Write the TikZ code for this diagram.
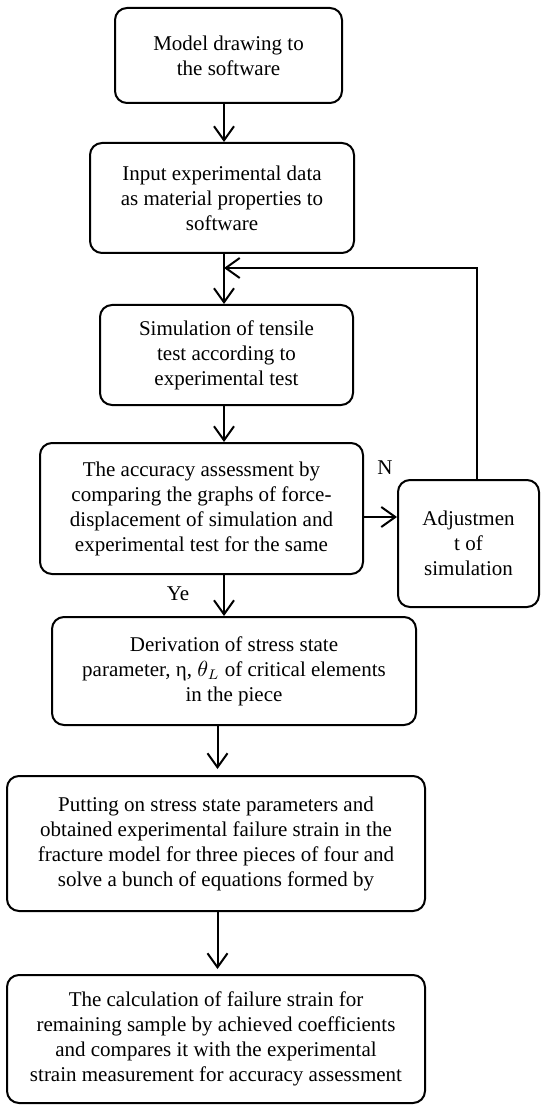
\documentclass[tikz,border=0pt]{standalone}
\usepackage{fontspec}
\setmainfont{Liberation Serif}
\usetikzlibrary{arrows.meta}
\tikzset{
	stage/.style={
			draw, rounded corners=6pt, line width=1pt, align=center, inner sep=2pt,
			font=\fontsize{10.5}{12.5}\selectfont
		},
	flow/.style={line width=1pt, -{Straight Barb[length=7pt,width=10pt,line width=1pt]}},
	tag/.style={font=\fontsize{10.5}{12.5}\selectfont}
}

\begin{document}
\begin{tikzpicture}[x=0.5pt,y=-0.5pt]
        \useasboundingbox (0,0) rectangle (540,1106);
        \node[stage,minimum width=113.5pt,minimum height=47.5pt] (model_box) at (228.5, 55.5) {Model drawing to\\the software};
        \node[stage,minimum width=132pt,minimum height=55pt] (input_box) at (222, 198) {Input experimental data\\as material properties to\\software};
        \node[stage,minimum width=126.5pt,minimum height=50pt] (sim_box) at (226.5, 355) {Simulation of tensile\\test according to\\experimental test};
        \node[stage,minimum width=161.5pt,minimum height=65.5pt] (check_box) at (201.5, 508.5) {The accuracy assessment by\\comparing the graphs of force-\\displacement of simulation and\\experimental test for the same};
        \node[stage,minimum width=70.5pt,minimum height=63.5pt] (adj_box) at (468.5, 543.5) {Adjustmen\\t of\\simulation};
        \node[stage,minimum width=182pt,minimum height=54pt] (stress_box) at (234, 671) {Derivation of stress state\\parameter, η, $\theta_L$ of critical elements\\in the piece};
        \node[stage,minimum width=209pt,minimum height=67.5pt] (fit_box) at (216, 843.5) {Putting on stress state parameters and\\obtained experimental failure strain in the\\fracture model for three pieces of four and\\solve a bunch of equations formed by};
        \node[stage,minimum width=209pt,minimum height=64pt] (calc_box) at (216, 1039) {The calculation of failure strain for\\remaining sample by achieved coefficients\\and compares it with the experimental\\strain measurement for accuracy assessment};
        \coordinate (col_A) at (224, 0);
        \coordinate (col_B) at (217.5, 0);
        \coordinate (loop_R) at (477, 268);
        \coordinate (loop_L) at (224, 268);
        \coordinate (no_y) at (0, 517);
        \draw[flow] (model_box.south -| col_A) -- (input_box.north -| col_A);
        \draw[flow] (input_box.south -| col_A) -- (sim_box.north -| col_A);
        \draw[flow] (sim_box.south -| col_A) -- (check_box.north -| col_A);
        \draw[flow] (check_box.south -| col_A) -- (stress_box.north -| col_A);
        \draw[flow] (check_box.east |- no_y) -- (adj_box.west |- no_y);
        \draw[flow] (loop_R |- adj_box.north) -- (loop_R) -- (loop_L);
        \draw[flow,shorten >=3pt] (stress_box.south -| col_B) -- (fit_box.north -| col_B);
        \draw[flow,shorten >=2.5pt] (fit_box.south -| col_B) -- (calc_box.north -| col_B);
        \node[tag] (no_lbl) at (385, 468) {N};
        \node[tag] (yes_lbl) at (178, 594) {Ye};
    \end{tikzpicture}
\end{document}
